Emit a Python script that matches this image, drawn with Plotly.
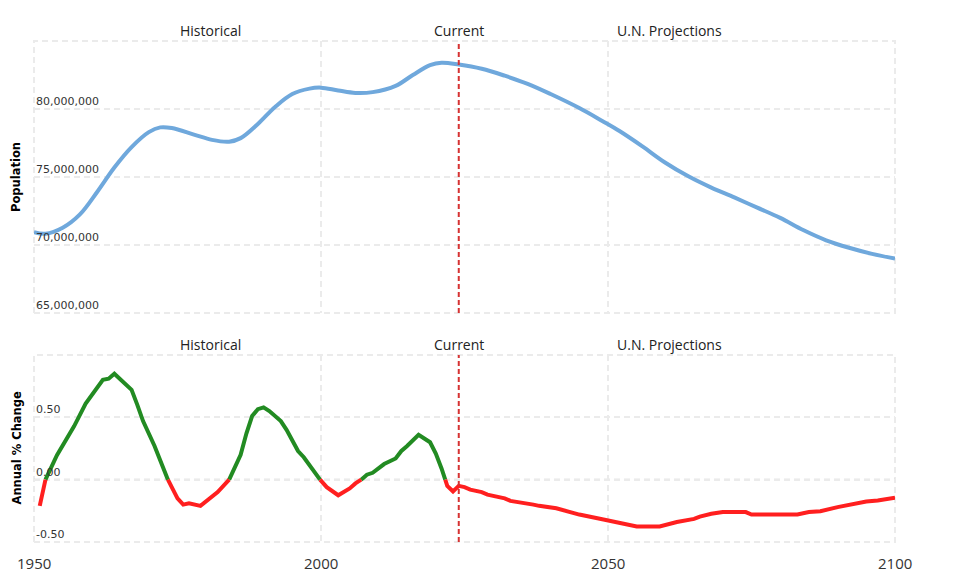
import plotly.graph_objects as go

# ---------------- data ----------------
pop_years = [1950, 1952, 1955, 1958, 1961, 1964, 1967, 1970, 1972, 1974, 1978, 1981, 1984, 1986,
             1989, 1992, 1995, 1998, 2000, 2003, 2006, 2009, 2013, 2016, 2019, 2021, 2024, 2028,
             2032, 2036, 2040, 2045, 2049, 2052, 2056, 2060, 2064, 2068, 2072, 2076, 2080, 2084,
             2088, 2092, 2096, 2100]
pop_values = [70.95e6, 70.83e6, 71.27e6, 72.25e6, 73.9e6, 75.7e6, 77.2e6, 78.3e6, 78.65e6, 78.6e6,
              78.1e6, 77.73e6, 77.6e6, 77.86e6, 78.9e6, 80.15e6, 81.1e6, 81.5e6, 81.57e6, 81.36e6,
              81.18e6, 81.24e6, 81.7e6, 82.5e6, 83.22e6, 83.4e6, 83.27e6, 82.96e6, 82.45e6, 81.85e6,
              81.1e6, 80.07e6, 79.12e6, 78.38e6, 77.25e6, 76.05e6, 75.05e6, 74.22e6, 73.5e6, 72.75e6,
              72.0e6, 71.1e6, 70.35e6, 69.8e6, 69.35e6, 69.0e6]

chg_years = [1951, 1952, 1954, 1957, 1959, 1962, 1963, 1964, 1965, 1967, 1968, 1969, 1971, 1973,
             1975, 1976, 1977, 1979, 1981, 1982, 1984, 1986, 1987, 1988, 1989, 1990, 1991, 1993,
             1994, 1996, 1997, 1998, 1999, 2000, 2001, 2003, 2005, 2006, 2007, 2008, 2009, 2011,
             2013, 2014, 2015, 2017, 2019, 2020, 2021, 2022, 2023, 2024, 2025, 2026, 2028, 2029,
             2032, 2033, 2037, 2038, 2041, 2043, 2045, 2049, 2053, 2055, 2059, 2062, 2065, 2066,
             2068, 2070, 2074, 2075, 2083, 2085, 2087, 2090, 2095, 2097, 2100]
chg_values = [-0.21, 0.0, 0.196, 0.43, 0.61, 0.80, 0.81, 0.85, 0.81, 0.72, 0.60, 0.47, 0.27, 0.03,
              -0.15, -0.20, -0.19, -0.21, -0.14, -0.10, 0.0, 0.2, 0.37, 0.51, 0.565, 0.58, 0.55, 0.47,
              0.40, 0.23, 0.18, 0.12, 0.05, -0.01, -0.06, -0.125, -0.07, -0.03, 0.0, 0.04, 0.055, 0.125,
              0.17, 0.23, 0.27, 0.36, 0.30, 0.21, 0.09, -0.05, -0.095, -0.05, -0.06, -0.08, -0.10, -0.12,
              -0.15, -0.17, -0.20, -0.21, -0.23, -0.255, -0.28, -0.317, -0.36, -0.375, -0.375, -0.34,
              -0.315, -0.296, -0.274, -0.26, -0.26, -0.28, -0.28, -0.26, -0.253, -0.22, -0.175, -0.167,
              -0.145]

current_year = 2024
x_tick_vals = [1950, 2000, 2050, 2100]
x_tick_text = ["1950", "2000", "2050", "2100"]
pop_tick_vals = [65e6, 70e6, 75e6, 80e6, 85e6]
pop_tick_text = ["65,000,000", "70,000,000", "75,000,000", "80,000,000", ""]
chg_tick_vals = [-0.5, 0.0, 0.5, 1.0]
chg_tick_text = ["-0.50", "0.00", "0.50", ""]
section_labels = ["Historical", "Current", "U.N. Projections"]
section_x = [1980.8, 2024, 2060.8]

# ---------------- split change line into positive / negative runs ----------------
def split_by_sign(xs, ys):
    out = {True: ([], []), False: ([], [])}
    run_x, run_y = [xs[0]], [ys[0]]
    sign = ys[0] >= 0
    for i in range(1, len(xs)):
        x0, y0, x1, y1 = xs[i - 1], ys[i - 1], xs[i], ys[i]
        s1 = y1 >= 0
        if s1 == sign:
            run_x.append(x1); run_y.append(y1)
        else:
            xc = x0 + (x1 - x0) * (0 - y0) / (y1 - y0)
            run_x.append(xc); run_y.append(0.0)
            out[sign][0].extend(run_x + [None]); out[sign][1].extend(run_y + [None])
            run_x, run_y = [xc, x1], [0.0, y1]
            sign = s1
    out[sign][0].extend(run_x); out[sign][1].extend(run_y)
    return out

parts = split_by_sign(chg_years, chg_values)

BLUE = "#6fa8dc"
GREEN = "#228b22"
RED = "#ff1f1f"
GRID = "#ebebeb"
TXT = "#333333"
GRID_DASH = "6px,4px"

fig = go.Figure()
fig.add_trace(go.Scatter(x=pop_years, y=pop_values, mode="lines",
                         line=dict(color=BLUE, width=4, shape="spline", smoothing=1.0),
                         xaxis="x", yaxis="y", showlegend=False, hoverinfo="skip"))
fig.add_trace(go.Scatter(x=parts[True][0], y=parts[True][1], mode="lines",
                         line=dict(color=GREEN, width=4), connectgaps=False,
                         xaxis="x2", yaxis="y2", showlegend=False, hoverinfo="skip"))
fig.add_trace(go.Scatter(x=parts[False][0], y=parts[False][1], mode="lines",
                         line=dict(color=RED, width=4), connectgaps=False,
                         xaxis="x2", yaxis="y2", showlegend=False, hoverinfo="skip"))

grid_common = dict(showgrid=True, gridcolor=GRID, gridwidth=2, griddash=GRID_DASH,
                   zeroline=False, showline=False, ticks="")
ytick_common = dict(ticklabelposition="inside top", ticklabelstandoff=-1,
                    tickfont=dict(family="DejaVu Sans", size=11, color=TXT))

fig.update_layout(
    width=978, height=578,
    margin=dict(l=34, r=83, t=41, b=36),
    paper_bgcolor="white", plot_bgcolor="white",
    xaxis=dict(domain=[0, 1], anchor="y", range=[1950, 2100], tickvals=x_tick_vals,
               showticklabels=False, **grid_common),
    yaxis=dict(domain=[0.457, 1], anchor="x", range=[65e6, 85e6], tickvals=pop_tick_vals,
               ticktext=pop_tick_text, **ytick_common, **grid_common),
    xaxis2=dict(domain=[0, 1], anchor="y2", range=[1950, 2100], tickvals=x_tick_vals,
                showticklabels=False, **grid_common),
    yaxis2=dict(domain=[0, 0.3733], anchor="x2", range=[-0.5, 1.0], tickvals=chg_tick_vals,
                ticktext=chg_tick_text, **ytick_common, **grid_common),
)

shapes = []
# dashed frame at the range edges (grid lines that Plotly clips at the ends)
for xr, yr in (("x domain", "y domain"), ("x2 domain", "y2 domain")):
    shapes.append(dict(type="rect", xref=xr, yref=yr, x0=0, x1=1, y0=0, y1=1,
                       line=dict(color=GRID, width=2, dash=GRID_DASH),
                       fillcolor="rgba(0,0,0,0)", layer="below"))
shapes += [
    dict(type="line", xref="x2 domain", x0=0, x1=1, yref="y2", y0=0, y1=0,
         line=dict(color="#d0d0d0", width=2, dash=GRID_DASH), layer="below"),
    dict(type="line", xref="x", x0=current_year, x1=current_year, yref="y domain", y0=0, y1=1,
         line=dict(color="#d63333", width=2, dash="5px,3px"), layer="above"),
    dict(type="line", xref="x2", x0=current_year, x1=current_year, yref="y2 domain", y0=0, y1=1,
         line=dict(color="#d63333", width=2, dash="5px,3px"), layer="above"),
]
fig.update_layout(shapes=shapes)

annotations = []
for yref_dom, xr in (("y domain", "x"), ("y2 domain", "x2")):
    for lab, xv in zip(section_labels, section_x):
        annotations.append(dict(text=lab, x=xv, xref=xr, y=1, yref=yref_dom, yshift=-1,
                                xanchor="center", yanchor="bottom", showarrow=False,
                                font=dict(family="Open Sans", size=14, color="#222222")))
# x-axis tick labels of the lower panel
for tv, tt in zip(x_tick_vals, x_tick_text):
    annotations.append(dict(text=tt, x=tv, xref="x2", y=0, yref="y2 domain", yshift=-9,
                            xanchor="center", yanchor="top", showarrow=False,
                            font=dict(family="Open Sans", size=15, color=TXT)))
annotations.append(dict(text="<b>Population</b>", x=-18 / 861, xref="paper",
                        y=(542 - 177) / 501, yref="paper", textangle=-90, showarrow=False,
                        xanchor="center", yanchor="middle",
                        font=dict(family="DejaVu Sans", size=11.5, color="#000000")))
annotations.append(dict(text="<b>Annual % Change</b>", x=-18 / 861, xref="paper",
                        y=(542 - 448.5) / 501, yref="paper", textangle=-90, showarrow=False,
                        xanchor="center", yanchor="middle",
                        font=dict(family="DejaVu Sans", size=11.5, color="#000000")))
fig.update_layout(annotations=annotations)

fig.write_html("out.html")
